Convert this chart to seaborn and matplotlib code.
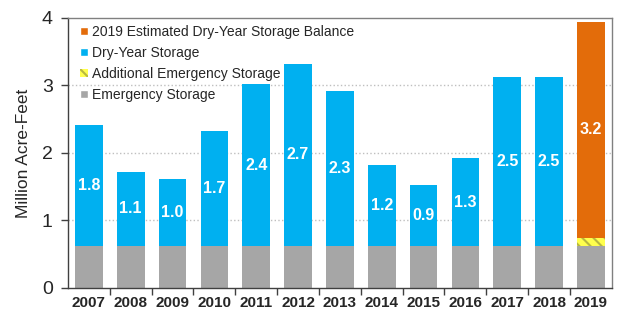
import pandas as pd
import matplotlib
matplotlib.use("Agg")
import matplotlib.pyplot as plt
import seaborn as sns
from matplotlib.patches import Patch

# data
years = ["2007", "2008", "2009", "2010", "2011", "2012", "2013",
         "2014", "2015", "2016", "2017", "2018", "2019"]
emergency = [0.62] * 13
additional_emergency = [0, 0, 0, 0, 0, 0, 0, 0, 0, 0, 0, 0, 0.12]
dry_year = [1.8, 1.1, 1.0, 1.7, 2.4, 2.7, 2.3, 1.2, 0.9, 1.3, 2.5, 2.5, 0]
estimated_2019 = [0, 0, 0, 0, 0, 0, 0, 0, 0, 0, 0, 0, 3.2]

df = pd.DataFrame({
    "year": years,
    "emergency": emergency,
    "additional": additional_emergency,
    "dry": dry_year,
    "est": estimated_2019,
})

c_gray = "#A6A6A6"
c_blue = "#00B0F0"
c_orange = "#E36C0A"
c_yellow = "#FFFF4D"

sns.set_style("white")
plt.rcParams["font.family"] = ["Liberation Sans", "DejaVu Sans"]
plt.rcParams["hatch.linewidth"] = 1.5

fig = plt.figure(figsize=(6.18, 3.09), dpi=100)
ax = fig.add_axes([0.11, 0.068, 0.88, 0.874])

w = 0.66
sns.barplot(data=df, x="year", y="emergency", color=c_gray, width=w,
            saturation=1, ax=ax, linewidth=0)
bot = df["emergency"]
sns.barplot(data=df, x="year", y="additional", color=c_yellow, width=w,
            saturation=1, ax=ax, bottom=bot, hatch="\\\\\\",
            edgecolor="#B8B840", linewidth=0)
bot = bot + df["additional"]
sns.barplot(data=df, x="year", y="dry", color=c_blue, width=w,
            saturation=1, ax=ax, bottom=bot, linewidth=0)
sns.barplot(data=df, x="year", y="est", color=c_orange, width=w,
            saturation=1, ax=ax, bottom=bot, linewidth=0)

# value labels in the middle of the dry-year / estimated segments
for i in range(len(years)):
    v = dry_year[i] if dry_year[i] > 0 else estimated_2019[i]
    ax.text(i, bot[i] + v / 2, f"{v:.1f}", ha="center", va="center",
            color="white", fontsize=11.5, fontweight="bold")

ax.set_xlim(-0.5, len(years) - 0.5)
ax.set_ylim(0, 4)
ax.set_yticks([0, 1, 2, 3, 4])
ax.tick_params(axis="y", labelsize=14, length=5, width=1, left=True,
               color="#404040", pad=6)
ax.tick_params(axis="x", which="major", length=0, labelsize=11, pad=6)
ax.set_xticks([i + 0.5 for i in range(len(years) - 1)], minor=True)
ax.tick_params(axis="x", which="minor", length=5, width=1, bottom=True,
               color="#404040")
for lab in ax.get_xticklabels():
    lab.set_fontweight("bold")
ax.set_xlabel("")
ax.set_ylabel("Million Acre-Feet", fontsize=12.5, labelpad=8)

for y in [1, 2, 3]:
    ax.axhline(y, color="#BFBFBF", linestyle=":", linewidth=1, zorder=0)

ax.spines["left"].set_color("#404040")
ax.spines["bottom"].set_color("#404040")
ax.spines["top"].set_color("#808080")
ax.spines["right"].set_color("#808080")
for s in ax.spines.values():
    s.set_linewidth(1)

handles = [
    Patch(facecolor=c_orange, label="2019 Estimated Dry-Year Storage Balance"),
    Patch(facecolor=c_blue, label="Dry-Year Storage"),
    Patch(facecolor=c_yellow, edgecolor="#B8B840", hatch="\\\\\\",
          linewidth=0, label="Additional Emergency Storage"),
    Patch(facecolor=c_gray, label="Emergency Storage"),
]
ax.legend(handles=handles, loc="upper left", bbox_to_anchor=(0.005, 1.01),
          frameon=False, fontsize=10, handlelength=0.55, handleheight=0.55,
          handletextpad=0.25, labelspacing=0.5, borderaxespad=0.3)

fig.savefig("out.png", dpi=100)
